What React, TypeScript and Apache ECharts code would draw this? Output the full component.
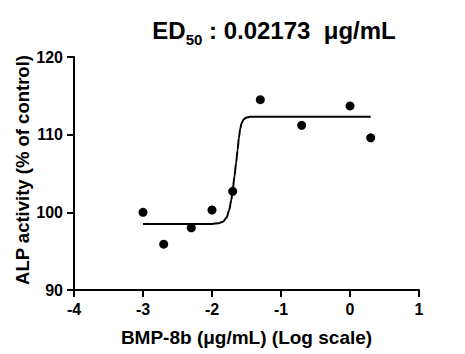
import React, { useEffect, useRef } from "react";
import * as echarts from "echarts";

const doseLog: number[] = [-3, -2.7, -2.3, -2.0, -1.7, -1.3, -0.7, 0.0, 0.3];
const activity: number[] = [100.0, 95.9, 98.0, 100.3, 102.7, 114.5, 111.2, 113.7, 109.6];

const curveX: number[] = [-3, -2.2, -2.0, -1.9, -1.84, -1.79, -1.75, -1.72, -1.70, -1.675, -1.65, -1.63, -1.61, -1.59, -1.57, -1.54, -1.5, -1.45, -1.3, 0.3];
const curveY: number[] = [98.5, 98.5, 98.5, 98.6, 98.8, 99.3, 100.3, 101.6, 102.8, 104.6, 106.4, 108.0, 109.6, 110.8, 111.5, 112.0, 112.2, 112.3, 112.3, 112.3];

const xTicks = [-4, -3, -2, -1, 0, 1];
const yTicks = [90, 100, 110, 120];

const FONT = "'Liberation Sans', Arial, Helvetica, sans-serif";

export default function App() {
  const ref = useRef<HTMLDivElement>(null);
  useEffect(() => {
    if (!ref.current) return;
    const chart = echarts.init(ref.current, null, { renderer: "svg" });
    const axisLine = { show: true, onZero: false, lineStyle: { color: "#000", width: 2 } };
    chart.setOption({
      animation: false,
      backgroundColor: "#fff",
      textStyle: { fontFamily: FONT },
      title: {
        text: "{a|ED}{s|50}{a| : 0.02173  \u03bcg/mL}",
        left: 269,
        textAlign: "center",
        top: 9,
        textStyle: {
          rich: {
            a: { fontFamily: FONT, fontWeight: "bold", fontSize: 24, color: "#000", verticalAlign: "bottom", lineHeight: 28 },
            s: { fontFamily: FONT, fontWeight: "bold", fontSize: 15, color: "#000", verticalAlign: "bottom", lineHeight: 28, padding: [0, 0, -5, 0] },
          },
        },
      },
      grid: { left: 74, right: 46, top: 57, bottom: 64, containLabel: false },
      xAxis: {
        type: "value",
        min: xTicks[0],
        max: xTicks[xTicks.length - 1],
        interval: 1,
        name: "BMP-8b (\u03bcg/mL) (Log scale)",
        nameLocation: "middle",
        nameGap: 38,
        nameTextStyle: { fontFamily: FONT, fontWeight: "bold", fontSize: 19, color: "#000" },
        axisLine,
        axisTick: { show: true, length: 7, lineStyle: { color: "#000", width: 2 } },
        axisLabel: { fontFamily: FONT, fontWeight: "bold", fontSize: 16, color: "#000", margin: 11 },
        splitLine: { show: false },
      },
      yAxis: {
        type: "value",
        min: yTicks[0],
        max: yTicks[yTicks.length - 1],
        interval: 10,
        axisLine,
        axisTick: { show: true, length: 7, lineStyle: { color: "#000", width: 2 } },
        axisLabel: { fontFamily: FONT, fontWeight: "bold", fontSize: 16, color: "#000", margin: 11 },
        splitLine: { show: false },
      },
      graphic: [
        {
          type: "text",
          x: 22,
          y: 170,
          rotation: Math.PI / 2,
          style: {
            text: "ALP activity (% of control)",
            font: `bold 18.5px ${FONT}`,
            fill: "#000",
            align: "center",
            verticalAlign: "middle",
          },
        },
      ],
      series: [
        {
          type: "line",
          data: curveX.map((x, i) => [x, curveY[i]]),
          showSymbol: false,
          smooth: 0.3,
          smoothMonotone: "x",
          lineStyle: { color: "#000", width: 2 },
          z: 2,
        },
        {
          type: "scatter",
          data: doseLog.map((x, i) => [x, activity[i]]),
          symbol: "circle",
          symbolSize: 9,
          itemStyle: { color: "#000", opacity: 1 },
          z: 3,
        },
      ],
    });
    return () => chart.dispose();
  }, []);
  return <div ref={ref} style={{ width: 465, height: 354, position: "absolute", left: 0, top: 0 }} />;
}
